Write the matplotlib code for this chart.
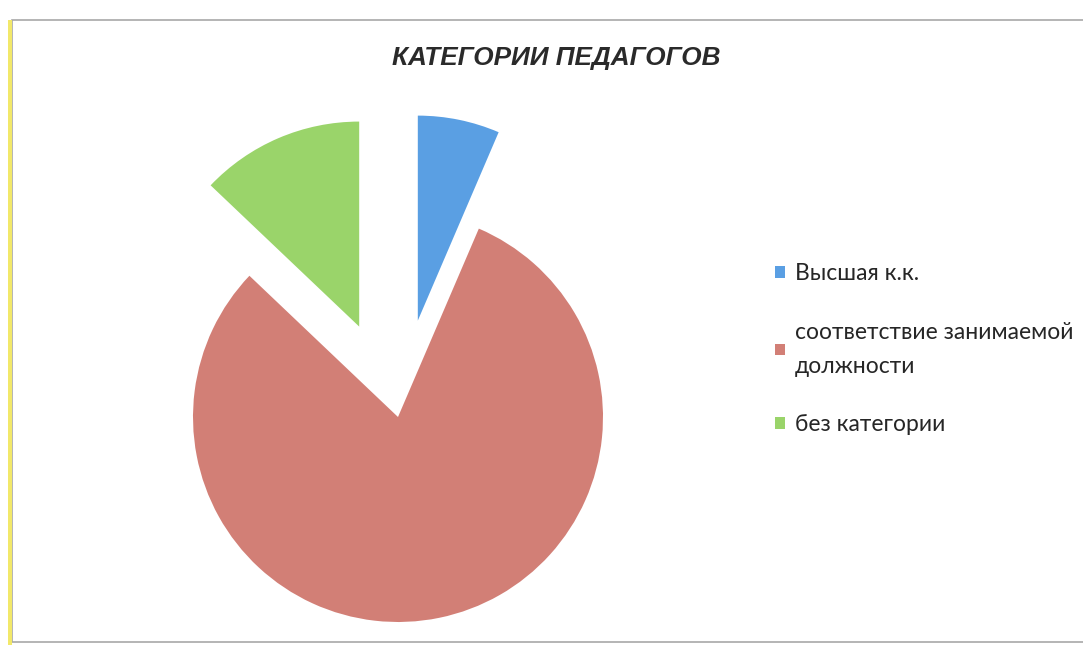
import matplotlib
matplotlib.use("Agg")
from matplotlib import pyplot as plt
from matplotlib.patches import Rectangle

# данные диаграммы
t_Labels = ["Высшая к.к.", "соответствие занимаемой\nдолжности", "без категории"]
t_Values = [2, 25, 4]
t_Colors = ["#5a9fe3", "#d27f76", "#9ad46a"]
t_Explode = [0.48, 0.0, 0.48]

fig = plt.figure(figsize=(10.83, 6.45), dpi=100)
fig.patch.set_facecolor("white")

## рамка (скан)
fig.add_artist(Rectangle((12 / 1083, 3 / 645), 1.1, 622 / 645, transform=fig.transFigure,
                         fill=False, edgecolor="#a8a8a8", linewidth=1.2))
fig.add_artist(Rectangle((8 / 1083, 0), 4 / 1083, 625 / 645, transform=fig.transFigure,
                         facecolor="#f2e86a", edgecolor="none"))

## круговая диаграмма: центр (398, 417) px, радиус 205 px
t_Half = 1.6
t_Size = 2 * t_Half * 205
ax = fig.add_axes([(398 - t_Size / 2) / 1083, (645 - 417 - t_Size / 2) / 645,
                   t_Size / 1083, t_Size / 645])
t_Wedges, _ = ax.pie(t_Values, colors=t_Colors, explode=t_Explode, startangle=90,
                     counterclock=False, radius=1.0)
ax.set_xlim(-t_Half, t_Half)
ax.set_ylim(-t_Half, t_Half)
ax.set_aspect("equal")
ax.axis("off")

fig.text(556 / 1083, 1 - 58 / 645, "КАТЕГОРИИ ПЕДАГОГОВ", ha="center", va="center",
         fontsize=18.8, style="italic", weight="bold", family="Liberation Sans",
         color="#2a2a2a")

t_Leg = fig.legend(t_Wedges, t_Labels, loc="upper left",
                   bbox_to_anchor=(775 / 1083, 1 - 263 / 645),
                   frameon=False, borderpad=0, borderaxespad=0,
                   handlelength=0.42, handleheight=0.42, handletextpad=0.45,
                   labelspacing=1.65, prop={"family": "Lato", "size": 16.5})
for t_Text in t_Leg.get_texts():
    t_Text.set_color("#262626")
    t_Text.set_linespacing(1.75)

fig.savefig("out.png", dpi=100, facecolor="white")
